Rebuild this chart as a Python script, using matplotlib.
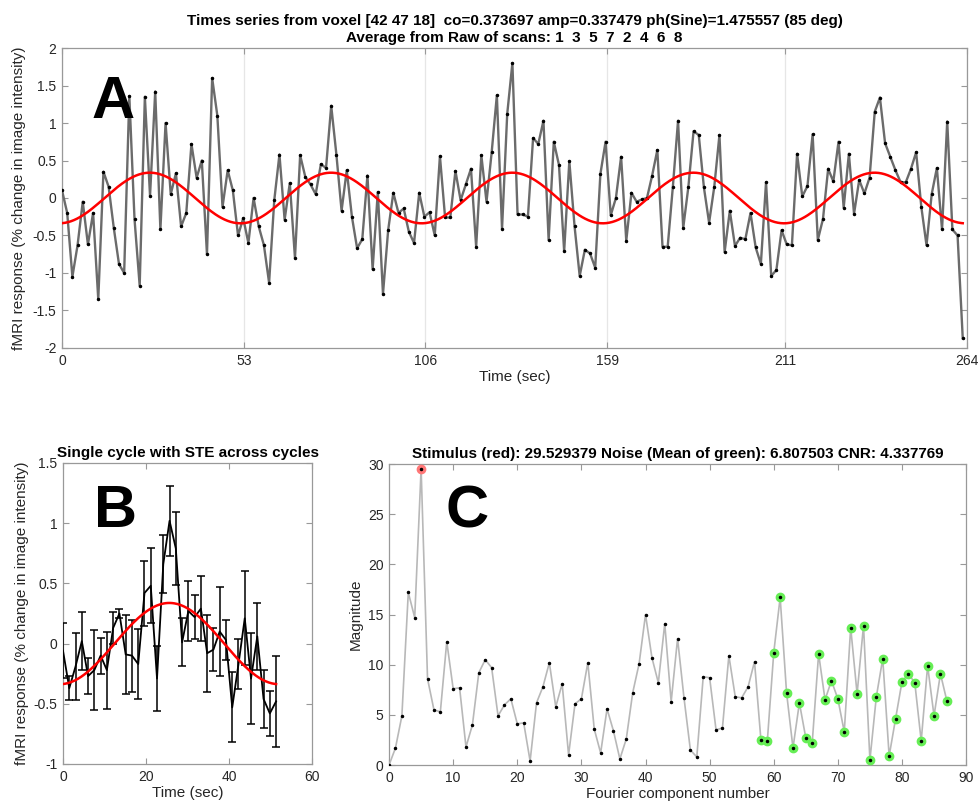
import numpy as np
import matplotlib
matplotlib.use('Agg')
import matplotlib.pyplot as plt
from matplotlib.ticker import FuncFormatter

plt.rcParams['font.family'] = ['Liberation Sans', 'DejaVu Sans']
plt.rcParams['axes.unicode_minus'] = False

# ---- data ----
tr = 1.51            # sec per frame
ncycles = 5
amp = 0.337479
ph = 1.475557

# panel A: averaged time series (175 frames)
tseries = [0.10, -0.20, -1.05, -0.63, -0.05, -0.62, -0.20, -1.35, 0.35, 0.15,
           -0.40, -0.88, -1.00, 1.36, -0.28, -1.17, 1.35, 0.03, 1.42, -0.42,
           1.00, 0.05, 0.33, -0.38, -0.20, 0.72, 0.27, 0.50, -0.75, 1.60,
           1.10, -0.12, 0.37, 0.10, -0.50, -0.27, -0.60, 0.00, -0.38, -0.63,
           -1.13, -0.03, 0.58, -0.29, 0.20, -0.80, 0.57, 0.28, 0.18, 0.05,
           0.45, 0.40, 1.23, 0.58, -0.17, 0.37, -0.25, -0.67, -0.55, 0.30,
           -0.95, 0.08, -1.28, -0.43, 0.07, -0.20, -0.14, -0.45, -0.60, 0.07,
           -0.25, -0.19, -0.50, 0.56, -0.26, -0.26, 0.36, -0.03, 0.18, 0.39,
           -0.65, 0.57, -0.05, 0.61, 1.37, -0.41, 1.12, 1.80, -0.22, -0.22,
           -0.25, 0.80, 0.72, 1.03, -0.56, 0.75, 0.44, -0.71, 0.49, -0.37,
           -1.04, -0.69, -0.74, -0.93, 0.32, 0.75, -0.23, 0.00, 0.55, -0.57,
           0.07, -0.05, -0.02, 0.00, 0.30, 0.64, -0.65, -0.65, 0.15, 1.03,
           -0.40, 0.15, 0.89, 0.84, 0.14, -0.33, 0.15, 0.84, -0.72, -0.17,
           -0.64, -0.53, -0.55, -0.20, -0.66, -0.88, 0.21, -1.04, -0.96, -0.43,
           -0.62, -0.63, 0.59, 0.02, 0.16, 0.85, -0.56, -0.28, 0.39, 0.22,
           0.75, -0.13, 0.59, -0.21, 0.24, 0.06, 0.27, 1.15, 1.34, 0.73,
           0.55, 0.37, 0.21, 0.21, 0.39, 0.61, -0.12, -0.63, 0.05, 0.40,
           -0.42, 1.02, -0.42, -0.50, -1.87]

# panel B: single cycle mean and STE (35 frames)
cyc_mean = [-0.06, -0.37, -0.19, 0.02, -0.27, -0.22, -0.10, -0.22, 0.13, 0.25,
            -0.09, -0.10, -0.17, 0.42, 0.48, -0.29, 0.66, 1.02, 0.79, 0.01,
            0.27, 0.22, 0.29, -0.08, -0.05, 0.10, 0.03, -0.53, -0.17, 0.21,
            -0.29, 0.06, -0.46, -0.58, -0.48]
cyc_ste = [0.23, 0.10, 0.28, 0.24, 0.15, 0.33, 0.15, 0.32, 0.13, 0.04,
           0.33, 0.30, 0.29, 0.27, 0.31, 0.27, 0.24, 0.29, 0.30, 0.20,
           0.25, 0.18, 0.27, 0.32, 0.18, 0.37, 0.17, 0.29, 0.21, 0.39,
           0.38, 0.28, 0.24, 0.19, 0.38]

# panel C: Fourier amplitudes, components 0..87
fft_amp = [0.0, 1.7, 4.9, 17.2, 14.7, 29.53, 8.6, 5.5, 5.3, 12.3,
           7.6, 7.7, 1.8, 4.0, 9.2, 10.5, 9.7, 4.9, 6.0, 6.6,
           4.1, 4.2, 0.4, 6.2, 7.8, 10.2, 5.8, 8.1, 1.0, 6.1,
           6.6, 10.2, 3.6, 1.2, 5.6, 3.4, 0.6, 2.6, 7.2, 10.1,
           15.0, 10.7, 8.2, 14.1, 6.3, 12.6, 6.7, 1.5, 0.8, 8.8,
           8.7, 3.5, 3.7, 10.9, 6.8, 6.7, 7.8, 10.3, 2.5, 2.4,
           11.2, 16.7, 7.2, 1.7, 6.2, 2.7, 2.2, 11.1, 6.5, 8.4,
           6.6, 3.3, 13.7, 7.1, 13.9, 0.5, 6.8, 10.6, 0.9, 4.6,
           8.3, 9.1, 8.2, 2.4, 9.9, 4.9, 9.1, 6.4]
stim_comp = 5
noise_comps = list(range(58, 88))

tA_ticks = [0, 53, 106, 159, 211, 264]

# ---- derived positions ----
t = np.arange(len(tseries)) * tr
tc = np.arange(len(cyc_mean)) * tr
period = len(tseries) * tr / ncycles
tfine = np.linspace(0, t[-1], 600)
tcfine = np.linspace(0, tc[-1], 200)
fit = amp * np.sin(2 * np.pi * tfine / period - ph)
fitc = amp * np.sin(2 * np.pi * tcfine / period - ph)
comps = np.arange(len(fft_amp))

fig = plt.figure(figsize=(9.8, 8.07), dpi=100)
axA = fig.add_axes([0.0633, 0.5688, 0.9235, 0.3717])
axB = fig.add_axes([0.0643, 0.0533, 0.2541, 0.3730])
axC = fig.add_axes([0.3970, 0.0520, 0.5888, 0.3730])

fmt = FuncFormatter(lambda v, p: '%g' % v)
lab = dict(fontsize=11, color='0.15')
ttl = dict(fontsize=11, fontweight='bold')
big = dict(fontsize=43, fontweight='bold', ha='left', va='baseline')


def matlab_style(ax):
    for s in ax.spines.values():
        s.set_color('0.6')
        s.set_linewidth(0.9)
    ax.tick_params(direction='in', top=True, right=True, length=4,
                   color='0.6', labelsize=10, labelcolor='0.15', pad=4)
    ax.yaxis.set_major_formatter(fmt)
    ax.xaxis.set_major_formatter(fmt)


# panel A
axA.plot(t, tseries, color='0.42', lw=1.7, marker='.', ms=3,
         mfc='black', mec='black', zorder=3)
axA.plot(tfine, fit, color='red', lw=1.8, zorder=4)
axA.set_xlim(0, 264)
axA.set_ylim(-2, 2)
axA.set_xticks(tA_ticks)
axA.set_yticks(np.arange(-2, 2.01, 0.5))
axA.grid(axis='x', color='0.9', lw=0.9)
matlab_style(axA)
axA.set_xlabel('Time (sec)', labelpad=2, **lab)
axA.set_ylabel('fMRI response (% change in image intensity)', labelpad=5, **lab)
axA.set_title('Times series from voxel [42 47 18]  co=0.373697 amp=0.337479 ph(Sine)=1.475557 (85 deg)\n'
              'Average from Raw of scans: 1  3  5  7  2  4  6  8',
              linespacing=1.3, pad=4, **ttl)
axA.text(8.5, 1.07, 'A', **big)

# panel B
axB.errorbar(tc, cyc_mean, yerr=cyc_ste, color='black', lw=1.3,
             elinewidth=1.1, capsize=3, capthick=1.1, zorder=3)
axB.plot(tcfine, fitc, color='red', lw=1.8, zorder=4)
axB.set_xlim(0, 60)
axB.set_ylim(-1, 1.5)
axB.set_xticks([0, 20, 40, 60])
axB.set_yticks(np.arange(-1, 1.51, 0.5))
matlab_style(axB)
axB.set_xlabel('Time (sec)', labelpad=2, **lab)
axB.set_ylabel('fMRI response (% change in image intensity)', labelpad=3, **lab)
axB.set_title('Single cycle with STE across cycles', pad=4, **ttl)
axB.text(7.5, 0.965, 'B', **big)

# panel C
axC.plot(comps, fft_amp, color='0.72', lw=1.2, marker='.', ms=3,
         mfc='black', mec='black', zorder=3)
axC.plot(comps[noise_comps], np.array(fft_amp)[noise_comps], ls='none', marker='o',
         ms=6, mfc='#66ee55', mec='#66ee55', zorder=4)
axC.plot(comps[noise_comps], np.array(fft_amp)[noise_comps], ls='none', marker='.',
         ms=3, color='black', zorder=5)
axC.plot([stim_comp], [fft_amp[stim_comp]], ls='none', marker='o', ms=6,
         mfc='#ff7777', mec='#ff7777', zorder=4)
axC.plot([stim_comp], [fft_amp[stim_comp]], ls='none', marker='.', ms=3,
         color='black', zorder=5)
axC.set_xlim(0, 90)
axC.set_ylim(0, 30)
axC.set_xticks(np.arange(0, 91, 10))
axC.set_yticks(np.arange(0, 31, 5))
matlab_style(axC)
axC.set_xlabel('Fourier component number', labelpad=2, **lab)
axC.set_ylabel('Magnitude', labelpad=4, **lab)
axC.set_title('Stimulus (red): 29.529379 Noise (Mean of green): 6.807503 CNR: 4.337769',
              pad=4, **ttl)
axC.text(8.8, 23.7, 'C', **big)

fig.savefig('out.png', dpi=100)
